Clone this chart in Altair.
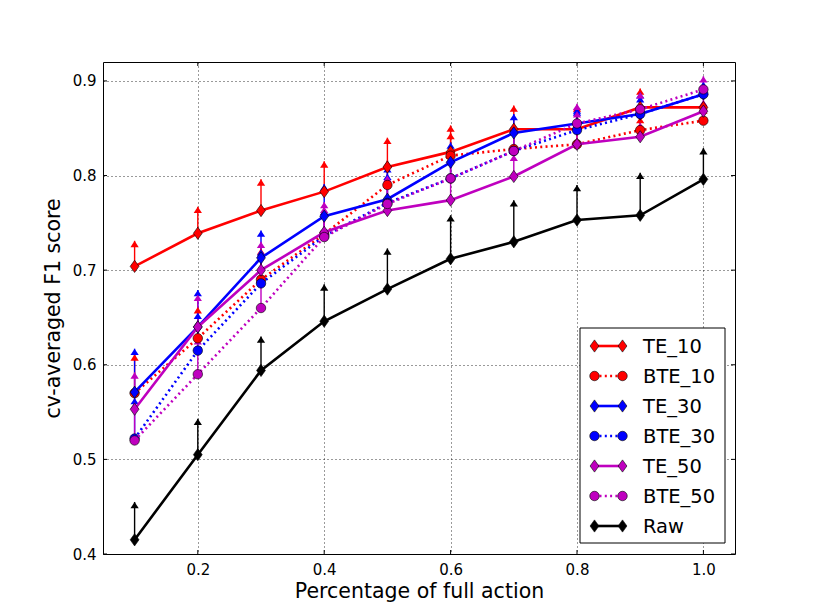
import altair as alt
import pandas as pd

# ---- data ----
x_vals = [0.1, 0.2, 0.3, 0.4, 0.5, 0.6, 0.7, 0.8, 0.9, 1.0]

te10 = [0.704, 0.739, 0.763, 0.783, 0.809, 0.825, 0.849, 0.849, 0.872, 0.872]
te10_up = [0.731, 0.767, 0.796, 0.815, 0.840, 0.853, 0.874, 0.874, 0.892, 0.876]

bte10 = [0.570, 0.628, 0.690, 0.738, 0.790, 0.821, 0.828, 0.833, 0.848, 0.858]
bte10_up = [0.611, 0.661, 0.723, 0.765, 0.816, 0.845, 0.852, 0.858, 0.862, 0.872]

te30 = [0.571, 0.640, 0.713, 0.757, 0.775, 0.814, 0.845, 0.855, 0.865, 0.886]
te30_up = [0.617, 0.679, 0.742, 0.791, 0.810, 0.835, 0.865, 0.870, 0.888, 0.899]

bte30 = [0.522, 0.615, 0.686, 0.736, 0.771, 0.797, 0.826, 0.848, 0.865, 0.886]
bte30_up = [0.565, 0.655, 0.722, 0.765, 0.802, 0.826, 0.852, 0.872, 0.884, 0.898]

te50 = [0.553, 0.640, 0.700, 0.740, 0.763, 0.774, 0.799, 0.833, 0.841, 0.868]
te50_up = [0.592, 0.674, 0.730, 0.772, 0.800, 0.827, 0.822, 0.876, 0.856, 0.880]

bte50 = [0.520, 0.590, 0.660, 0.735, 0.770, 0.797, 0.826, 0.855, 0.870, 0.891]
bte50_up = [0.560, 0.628, 0.695, 0.767, 0.797, 0.820, 0.850, 0.868, 0.888, 0.905]

raw = [0.415, 0.505, 0.594, 0.646, 0.680, 0.712, 0.730, 0.753, 0.758, 0.796]
raw_up = [0.455, 0.543, 0.630, 0.685, 0.723, 0.758, 0.774, 0.790, 0.803, 0.829]

series_names = ["TE_10", "BTE_10", "TE_30", "BTE_30", "TE_50", "BTE_50", "Raw"]
series_colors = ["#ff0000", "#ff0000", "#0000ff", "#0000ff", "#bf00bf", "#bf00bf", "#000000"]
series_kind = ["solid", "dotted", "solid", "dotted", "solid", "dotted", "solid"]
series_vals = [te10, bte10, te30, bte30, te50, bte50, raw]
series_ups = [te10_up, bte10_up, te30_up, bte30_up, te50_up, bte50_up, raw_up]

x_ticks = [0.2, 0.4, 0.6, 0.8, 1.0]
y_ticks = [0.4, 0.5, 0.6, 0.7, 0.8, 0.9]

rows = []
for name, kind, vals, ups in zip(series_names, series_kind, series_vals, series_ups):
    for xv, yv, uv in zip(x_vals, vals, ups):
        rows.append({"series": name, "kind": kind, "x": xv, "y": yv, "up": uv})
df = pd.DataFrame(rows)
xt = pd.DataFrame({"x": x_ticks})
yt = pd.DataFrame({"y": y_ticks})
leg_df = pd.DataFrame({"series": series_names, "kind": series_kind})

W, H = 632, 492
FONT = "DejaVu Sans"
LABEL_SIZE = 15

xscale = alt.Scale(domain=[0.05, 1.05], nice=False, zero=False)
yscale = alt.Scale(domain=[0.4, 0.92], nice=False, zero=False)
cscale = alt.Scale(domain=series_names, range=series_colors)

DIAMOND = "M0,-1L0.72,0L0,1L-0.72,0Z"
CARET = "M0,0L0.85,1.3L-0.85,1.3Z"

base = alt.Chart(df)

X = alt.X("x:Q", scale=xscale,
          axis=alt.Axis(values=x_ticks, format=".1f", title="Percentage of full action",
                        labelFont=FONT, labelFontSize=LABEL_SIZE, labelColor="black",
                        labelPadding=8, titlePadding=4))
Y = alt.Y("y:Q", scale=yscale,
          axis=alt.Axis(values=y_ticks, format=".1f", title="cv-averaged F1 score",
                        labelFont=FONT, labelFontSize=LABEL_SIZE, labelColor="black",
                        labelPadding=7, titlePadding=9))
C = alt.Color("series:N", scale=cscale, legend=None)

# error bars first (they sit below all data lines, as in the source)
err = base.mark_rule(strokeWidth=1.4).encode(
    x=X, y=Y, y2=alt.Y2("up:Q"), color=C)
caps = base.mark_point(shape=CARET, filled=True, size=95, opacity=1).encode(
    x=X, y=alt.Y("up:Q", scale=yscale), color=C)

series_layers = []
for name, kind in zip(series_names, series_kind):
    sb = base.transform_filter(alt.datum.series == name)
    if kind == "solid":
        line = sb.mark_line(strokeWidth=2.6).encode(x=X, y=Y, color=C)
        mk = sb.mark_point(shape=DIAMOND, filled=True, size=150, opacity=1,
                           stroke="black", strokeWidth=0.6).encode(x=X, y=Y, color=C)
    else:
        line = sb.mark_line(strokeWidth=2.6, strokeDash=[2, 3.3]).encode(x=X, y=Y, color=C)
        mk = sb.mark_point(shape="circle", filled=True, size=90, opacity=1,
                           stroke="black", strokeWidth=0.6).encode(x=X, y=Y, color=C)
    series_layers += [line, mk]

tick_b = alt.Chart(xt).mark_rule(color="black", strokeWidth=1).encode(
    x=alt.X("x:Q", scale=xscale), y=alt.value(H), y2=alt.value(H - 4))
tick_t = alt.Chart(xt).mark_rule(color="black", strokeWidth=1).encode(
    x=alt.X("x:Q", scale=xscale), y=alt.value(0), y2=alt.value(4))
tick_l = alt.Chart(yt).mark_rule(color="black", strokeWidth=1).encode(
    y=alt.Y("y:Q", scale=yscale), x=alt.value(0), x2=alt.value(4))
tick_r = alt.Chart(yt).mark_rule(color="black", strokeWidth=1).encode(
    y=alt.Y("y:Q", scale=yscale), x=alt.value(W), x2=alt.value(W - 4))

plot = alt.layer(err, caps, *series_layers, tick_b, tick_t, tick_l, tick_r)

# ---- legend (drawn as marks, rows placed by a point scale on series) ----
LX0, LX1 = 477, 622          # box left/right (plot px)
LY0, LY1 = 266, 481          # box top/bottom
MK_L, MK_R, TXT_X = 491.5, 519.5, 540
LY = alt.Y("series:N", scale=alt.Scale(type="point", domain=series_names,
                                       range=[284, 464], padding=0), axis=None)
LC = alt.Color("series:N", scale=cscale, legend=None)
lbase = alt.Chart(leg_df)

leg_box = alt.Chart(pd.DataFrame({"k": [0]})).mark_rect(
    fill="white", stroke="black", strokeWidth=1
).encode(x=alt.value(LX0), x2=alt.value(LX1), y=alt.value(LY0), y2=alt.value(LY1))
leg_solid = lbase.transform_filter("datum.kind == 'solid'").mark_rule(strokeWidth=2.6).encode(
    x=alt.value(MK_L), x2=alt.value(MK_R), y=LY, color=LC)
leg_dotted = lbase.transform_filter("datum.kind == 'dotted'").mark_rule(
    strokeWidth=2.6, strokeDash=[2, 3.3]).encode(
    x=alt.value(MK_L + 5), x2=alt.value(MK_R - 4), y=LY, color=LC)
leg_marks = []
for mx in (MK_L, MK_R):
    leg_marks.append(lbase.transform_filter("datum.kind == 'solid'").mark_point(
        shape=DIAMOND, filled=True, size=150, opacity=1, stroke="black", strokeWidth=0.6
    ).encode(x=alt.value(mx), y=LY, color=LC))
    leg_marks.append(lbase.transform_filter("datum.kind == 'dotted'").mark_point(
        shape="circle", filled=True, size=90, opacity=1, stroke="black", strokeWidth=0.6
    ).encode(x=alt.value(mx), y=LY, color=LC))
leg_text = lbase.mark_text(align="left", baseline="middle", font=FONT, fontSize=19.5,
                           color="black", dy=1).encode(
    x=alt.value(TXT_X), y=LY, text="series:N")

legend = alt.layer(leg_box, leg_solid, leg_dotted, *leg_marks, leg_text)

chart = alt.layer(plot, legend).resolve_scale(
    x="independent", y="independent"
).properties(
    width=W, height=H,
    autosize=alt.AutoSizeParams(type="none"),
    padding={"left": 95, "top": 54, "right": 70, "bottom": 55},
).configure_view(
    stroke="black", strokeWidth=1
).configure_axis(
    labelFont=FONT, labelFontSize=LABEL_SIZE, labelColor="black",
    titleFont=FONT, titleFontSize=20.5, titleColor="black", titleFontWeight="normal",
    grid=True, gridColor="black", gridDash=[1, 3], gridWidth=0.8, gridOpacity=1,
    ticks=False, domain=False,
)

chart.save("out.html", embed_options={"renderer": "svg", "actions": False})
